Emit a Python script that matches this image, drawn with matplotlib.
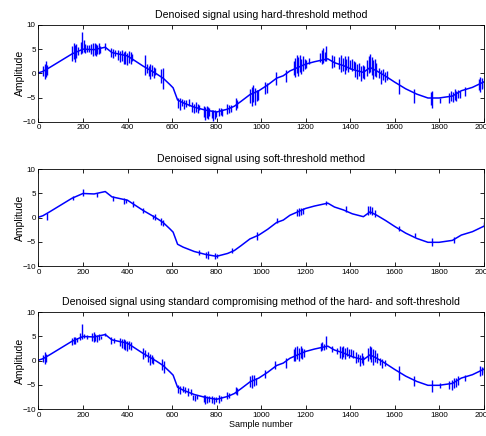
import numpy as np
import matplotlib
matplotlib.use("Agg")
import matplotlib.pyplot as plt

plt.rcParams["font.family"] = ["Liberation Sans", "DejaVu Sans"]

# ---------- underlying (denoised) trend ----------
base_x = [0, 20, 50, 100, 150, 200, 250, 300, 330, 400, 440, 470, 500, 530,
          560, 590, 605, 625, 650, 700, 750, 800, 850, 880, 910, 950, 990,
          1030, 1070, 1100, 1130, 1170, 1200, 1240, 1280, 1300, 1330, 1370,
          1410, 1460, 1490, 1520, 1560, 1600, 1650, 1700, 1750, 1800, 1860,
          1900, 1950, 2000]
base_y = [0.1, 0.4, 1.2, 2.6, 4.0, 5.0, 4.9, 5.4, 4.3, 3.6, 2.4, 1.5, 0.7, -0.1,
          -1.0, -2.3, -3.0, -5.5, -6.1, -7.0, -7.6, -8.0, -7.4, -6.8, -5.8, -4.4,
          -3.6, -2.4, -1.0, -0.5, 0.5, 1.3, 1.9, 2.4, 2.8, 3.0, 2.2, 1.6,
          0.8, 0.2, 1.2, 0.5, -0.6, -1.8, -3.2, -4.3, -5.1, -5.1, -4.7,
          -3.6, -2.9, -1.8]

# ---------- residual noise bursts: sample, low, high ----------
hard_sx = [22, 28, 34, 40, 152, 158, 164, 170, 176, 190, 196, 203, 210, 218, 226,
           238, 245, 252, 258, 265, 272, 278, 300, 328, 336, 344, 358, 366, 374,
           382, 390, 398, 406, 414, 420, 478, 488, 495, 502, 510, 518, 525, 552,
           560, 628, 636, 645, 655, 665, 675, 692, 700, 708, 716, 722, 742, 748,
           755, 762, 768, 780, 786, 792, 798, 810, 818, 826, 848, 856, 864, 886,
           894, 952, 958, 965, 972, 980, 986, 1020, 1028, 1068, 1110, 1146, 1153,
           1160, 1167, 1174, 1181, 1188, 1196, 1202, 1215, 1265, 1272, 1279, 1286,
           1292, 1320, 1330, 1352, 1360, 1368, 1376, 1384, 1392, 1400, 1408, 1416,
           1424, 1432, 1440, 1448, 1456, 1464, 1478, 1485, 1490, 1497, 1504, 1511,
           1518, 1532, 1540, 1548, 1556, 1564, 1618, 1686, 1764, 1770, 1802, 1846,
           1854, 1862, 1870, 1878, 1886, 1894, 1916, 1978, 1986, 1994, 2000]
hard_lo = [-0.5, -1.1, -0.8, -0.3, 2.6, 3.0, 2.4, 3.2, 3.8, 4.0, 4.2, 4.5, 4.3, 4.4, 4.5,
           4.0, 3.5, 3.8, 3.6, 4.0, 3.9, 4.3, 4.8, 3.4, 3.1, 3.5, 2.8, 2.3, 2.6,
           2.0, 1.9, 1.7, 2.2, 2.0, 2.6, -0.4, 0.0, -0.6, -1.1, -0.5, -0.9, -0.3, -2.0,
           -3.2, -7.2, -7.6, -6.8, -7.4, -7.0, -6.8, -8.0, -8.2, -7.9, -8.1, -7.6, -9.0, -9.6,
           -9.2, -9.5, -8.8, -9.3, -9.9, -9.4, -9.0, -8.9, -8.6, -8.8, -8.5, -8.3, -8.0, -7.5,
           -7.2, -6.2, -6.8, -6.0, -6.5, -5.8, -5.5, -4.3, -4.0, -2.5, -1.8, -0.3, -0.8,
           0.0, -0.5, 0.2, -0.2, 0.5, 0.8, 1.0, 2.0, 2.4, 2.0, 2.2, 2.5,
           2.6, 1.0, 1.3, 0.8, 0.2, 0.5, -0.1, 0.6, 0.2, 0.8, 0.4, 0.9,
           -0.8, -1.2, -0.6, -1.5, -0.9, -1.2, -0.5, 0.0, 0.3, -0.4, -1.1, -0.6,
           -0.8, -1.0, -2.2, -1.4, -1.8, -1.3, -4.3, -6.1, -6.5, -7.1, -6.1, -6.1,
           -5.8, -6.0, -5.5, -5.8, -5.2, -5.0, -4.6, -3.4, -3.9, -3.2, -3.0]
hard_hi = [1.5, 2.0, 2.5, 1.8, 5.6, 6.3, 5.8, 6.0, 5.5, 6.5, 8.5, 6.8, 6.0, 5.9, 5.8,
           6.0, 6.3, 6.2, 6.1, 5.8, 6.2, 5.7, 6.2, 5.2, 5.0, 4.8, 4.9, 4.6, 4.9,
           4.5, 4.7, 4.2, 4.6, 4.4, 4.0, 3.8, 2.0, 1.6, 2.0, 1.7, 1.4, 1.0, 0.8,
           1.0, -5.0, -5.2, -5.4, -5.6, -5.5, -5.4, -6.0, -6.3, -6.0, -6.4, -6.5, -6.8, -6.9,
           -6.8, -7.0, -7.2, -7.5, -7.6, -7.5, -7.8, -7.1, -7.2, -7.4, -6.4, -6.6, -6.5, -5.2,
           -5.6, -3.2, -2.8, -2.5, -3.0, -3.4, -3.5, -1.8, -2.0, 0.3, 0.6, 2.6, 3.2,
           3.8, 3.4, 3.8, 3.0, 3.5, 3.0, 2.8, 3.1, 4.2, 4.8, 5.2, 4.5,
           5.6, 3.8, 3.5, 3.4, 3.8, 3.2, 3.6, 3.0, 3.5, 2.8, 3.0, 2.6,
           2.4, 2.0, 2.2, 1.6, 1.8, 1.5, 2.8, 3.5, 3.9, 3.4, 2.8, 3.0,
           2.2, 1.0, 0.6, 0.8, 0.2, 0.4, -1.1, -3.2, -3.9, -3.6, -5.0, -4.0,
           -3.6, -3.8, -3.2, -3.6, -3.4, -3.6, -2.9, -1.2, -0.8, -1.0, -1.5]

soft_sx = [40, 155, 200, 262, 335, 385, 392, 425, 470, 515, 525, 550, 560, 720, 752,
           760, 792, 800, 870, 980, 1070, 1160, 1170, 1180, 1188, 1292, 1380, 1480,
           1490, 1500, 1510, 1620, 1690, 1770, 1865, 2000]
soft_lo = [-0.4, 3.6, 4.5, 4.3, 3.5, 2.9, 3.0, 2.2, 0.9, -0.2, -0.5, -1.5, -1.8, -7.8, -8.3,
           -8.5, -8.6, -8.3, -7.3, -4.6, -1.2, 0.4, 0.3, 0.6, 0.8, 2.6, 1.2, 0.6,
           0.8, 0.6, 0.2, -2.8, -4.1, -5.8, -5.2, -1.9]
soft_hi = [1.0, 4.5, 6.0, 5.2, 4.5, 4.0, 3.8, 3.4, 2.0, 0.6, 0.8, 0.0, -0.4, -6.6, -7.2,
           -7.0, -7.4, -7.5, -6.3, -3.0, 0.0, 1.8, 2.0, 1.9, 2.0, 3.5, 2.4, 2.4,
           2.5, 2.2, 1.5, -1.8, -3.2, -4.2, -4.0, -1.0]

comp_sx = [22, 28, 34, 150, 158, 166, 174, 188, 196, 205, 218, 240, 248, 256, 264,
           272, 280, 300, 328, 338, 366, 374, 382, 390, 398, 406, 414, 470, 478,
           492, 500, 508, 516, 554, 562, 628, 638, 648, 660, 672, 685, 695, 705,
           714, 742, 750, 758, 766, 780, 788, 796, 810, 820, 848, 856, 886, 894,
           952, 960, 968, 976, 1020, 1065, 1110, 1146, 1154, 1162, 1170, 1178, 1186,
           1194, 1268, 1276, 1284, 1292, 1320, 1340, 1354, 1362, 1370, 1378, 1386,
           1394, 1404, 1412, 1428, 1436, 1444, 1452, 1460, 1480, 1488, 1496, 1504,
           1512, 1520, 1534, 1544, 1556, 1618, 1686, 1768, 1802, 1846, 1856, 1866,
           1876, 1886, 1916, 1982, 1992, 2000]
comp_lo = [-0.3, -0.6, -0.2, 3.2, 3.4, 3.5, 3.8, 4.3, 4.4, 4.6, 4.4, 4.0, 3.8, 4.1, 3.9,
           4.2, 4.4, 5.0, 3.5, 3.6, 3.0, 2.6, 2.5, 2.2, 2.0, 2.4, 2.2, 0.3, 0.8,
           -0.2, -0.8, -0.4, -0.6, -2.0, -2.5, -6.6, -6.8, -6.4, -6.7, -7.3, -7.0, -8.1, -8.3,
           -8.0, -8.6, -8.9, -8.7, -8.5, -8.8, -9.0, -8.6, -8.7, -8.4, -8.0, -7.8, -6.8, -7.0,
           -5.4, -5.7, -5.2, -5.0, -3.6, -1.8, -1.5, 0.0, -0.1, 0.4, 0.0, 0.5, 0.3,
           0.8, 2.0, 2.2, 2.3, 2.4, 1.7, 1.3, 0.6, 0.3, 0.8, 0.4, 1.0,
           0.6, 0.9, 0.5, -0.5, -0.2, -1.1, -0.4, -0.8, 0.0, 0.4, -0.2, -0.8,
           -0.3, -0.5, -1.0, -1.5, -1.2, -3.9, -5.2, -6.4, -5.7, -5.9, -6.1, -5.6,
           -5.4, -5.0, -4.3, -3.2, -3.0, -2.6]
comp_hi = [1.2, 1.7, 1.4, 4.6, 4.9, 4.8, 4.6, 5.7, 7.5, 5.6, 5.4, 5.8, 5.9, 5.6, 5.4,
           5.6, 5.2, 5.8, 4.9, 4.6, 4.6, 4.4, 4.5, 4.2, 4.0, 4.0, 3.8, 2.7, 2.2,
           1.7, 1.4, 1.2, 0.8, 0.3, 0.0, -5.0, -5.2, -5.3, -5.5, -5.6, -5.8, -7.0, -7.1,
           -7.2, -7.1, -7.2, -7.3, -7.3, -7.4, -7.5, -7.6, -7.2, -7.3, -6.4, -6.6, -5.5, -5.7,
           -3.2, -2.9, -3.0, -3.5, -2.0, -0.1, 0.6, 2.4, 2.8, 3.0, 2.7, 3.0, 2.6,
           2.5, 3.6, 3.9, 3.5, 5.1, 3.0, 2.7, 3.0, 2.8, 3.0, 2.6, 2.9,
           2.5, 2.4, 2.2, 1.7, 1.4, 1.2, 1.5, 1.0, 2.6, 3.0, 2.8, 2.4,
           2.2, 1.6, 0.6, 0.4, 0.2, -1.1, -3.2, -3.9, -4.6, -4.2, -4.0, -3.6,
           -3.5, -3.2, -2.9, -1.1, -1.3, -1.4]

titles = [
    "Denoised signal using hard-threshold method",
    "Denoised signal using soft-threshold method",
    "Denoised signal using standard compromising method of the hard- and soft-threshold",
]
x_ticks = [0, 200, 400, 600, 800, 1000, 1200, 1400, 1600, 1800, 2000]
y_ticks = [-10, -5, 0, 5, 10]

panels = [(hard_sx, hard_lo, hard_hi), (soft_sx, soft_lo, soft_hi), (comp_sx, comp_lo, comp_hi)]
bottoms = [0.7209, 0.3899, 0.0619]

fig = plt.figure(figsize=(4.86, 4.36), dpi=100)
for i, ((sx, lo, hi), b) in enumerate(zip(panels, bottoms)):
    ax = fig.add_axes([0.0792, b, 0.9158, 0.2218])
    ax.plot(base_x, base_y, color="#0000ff", lw=1.1)
    ax.vlines(sx, lo, hi, color="#0000ff", lw=1.0)
    ax.set_xlim(0, 2000)
    ax.set_ylim(-10, 10)
    ax.set_xticks(x_ticks)
    ax.set_yticks(y_ticks)
    ax.tick_params(direction="in", length=3, width=0.6, labelsize=5.8,
                   top=True, right=True, pad=2)
    for s in ax.spines.values():
        s.set_linewidth(0.6)
    ax.set_title(titles[i], fontsize=7.6, pad=5)
    ax.set_ylabel("Amplitude", fontsize=7.5)
    ax.yaxis.set_label_coords(-0.03, 0.5)
    if i == 2:
        ax.set_xlabel("Sample number", fontsize=6.5, labelpad=1)

fig.savefig("out.png", dpi=100)
